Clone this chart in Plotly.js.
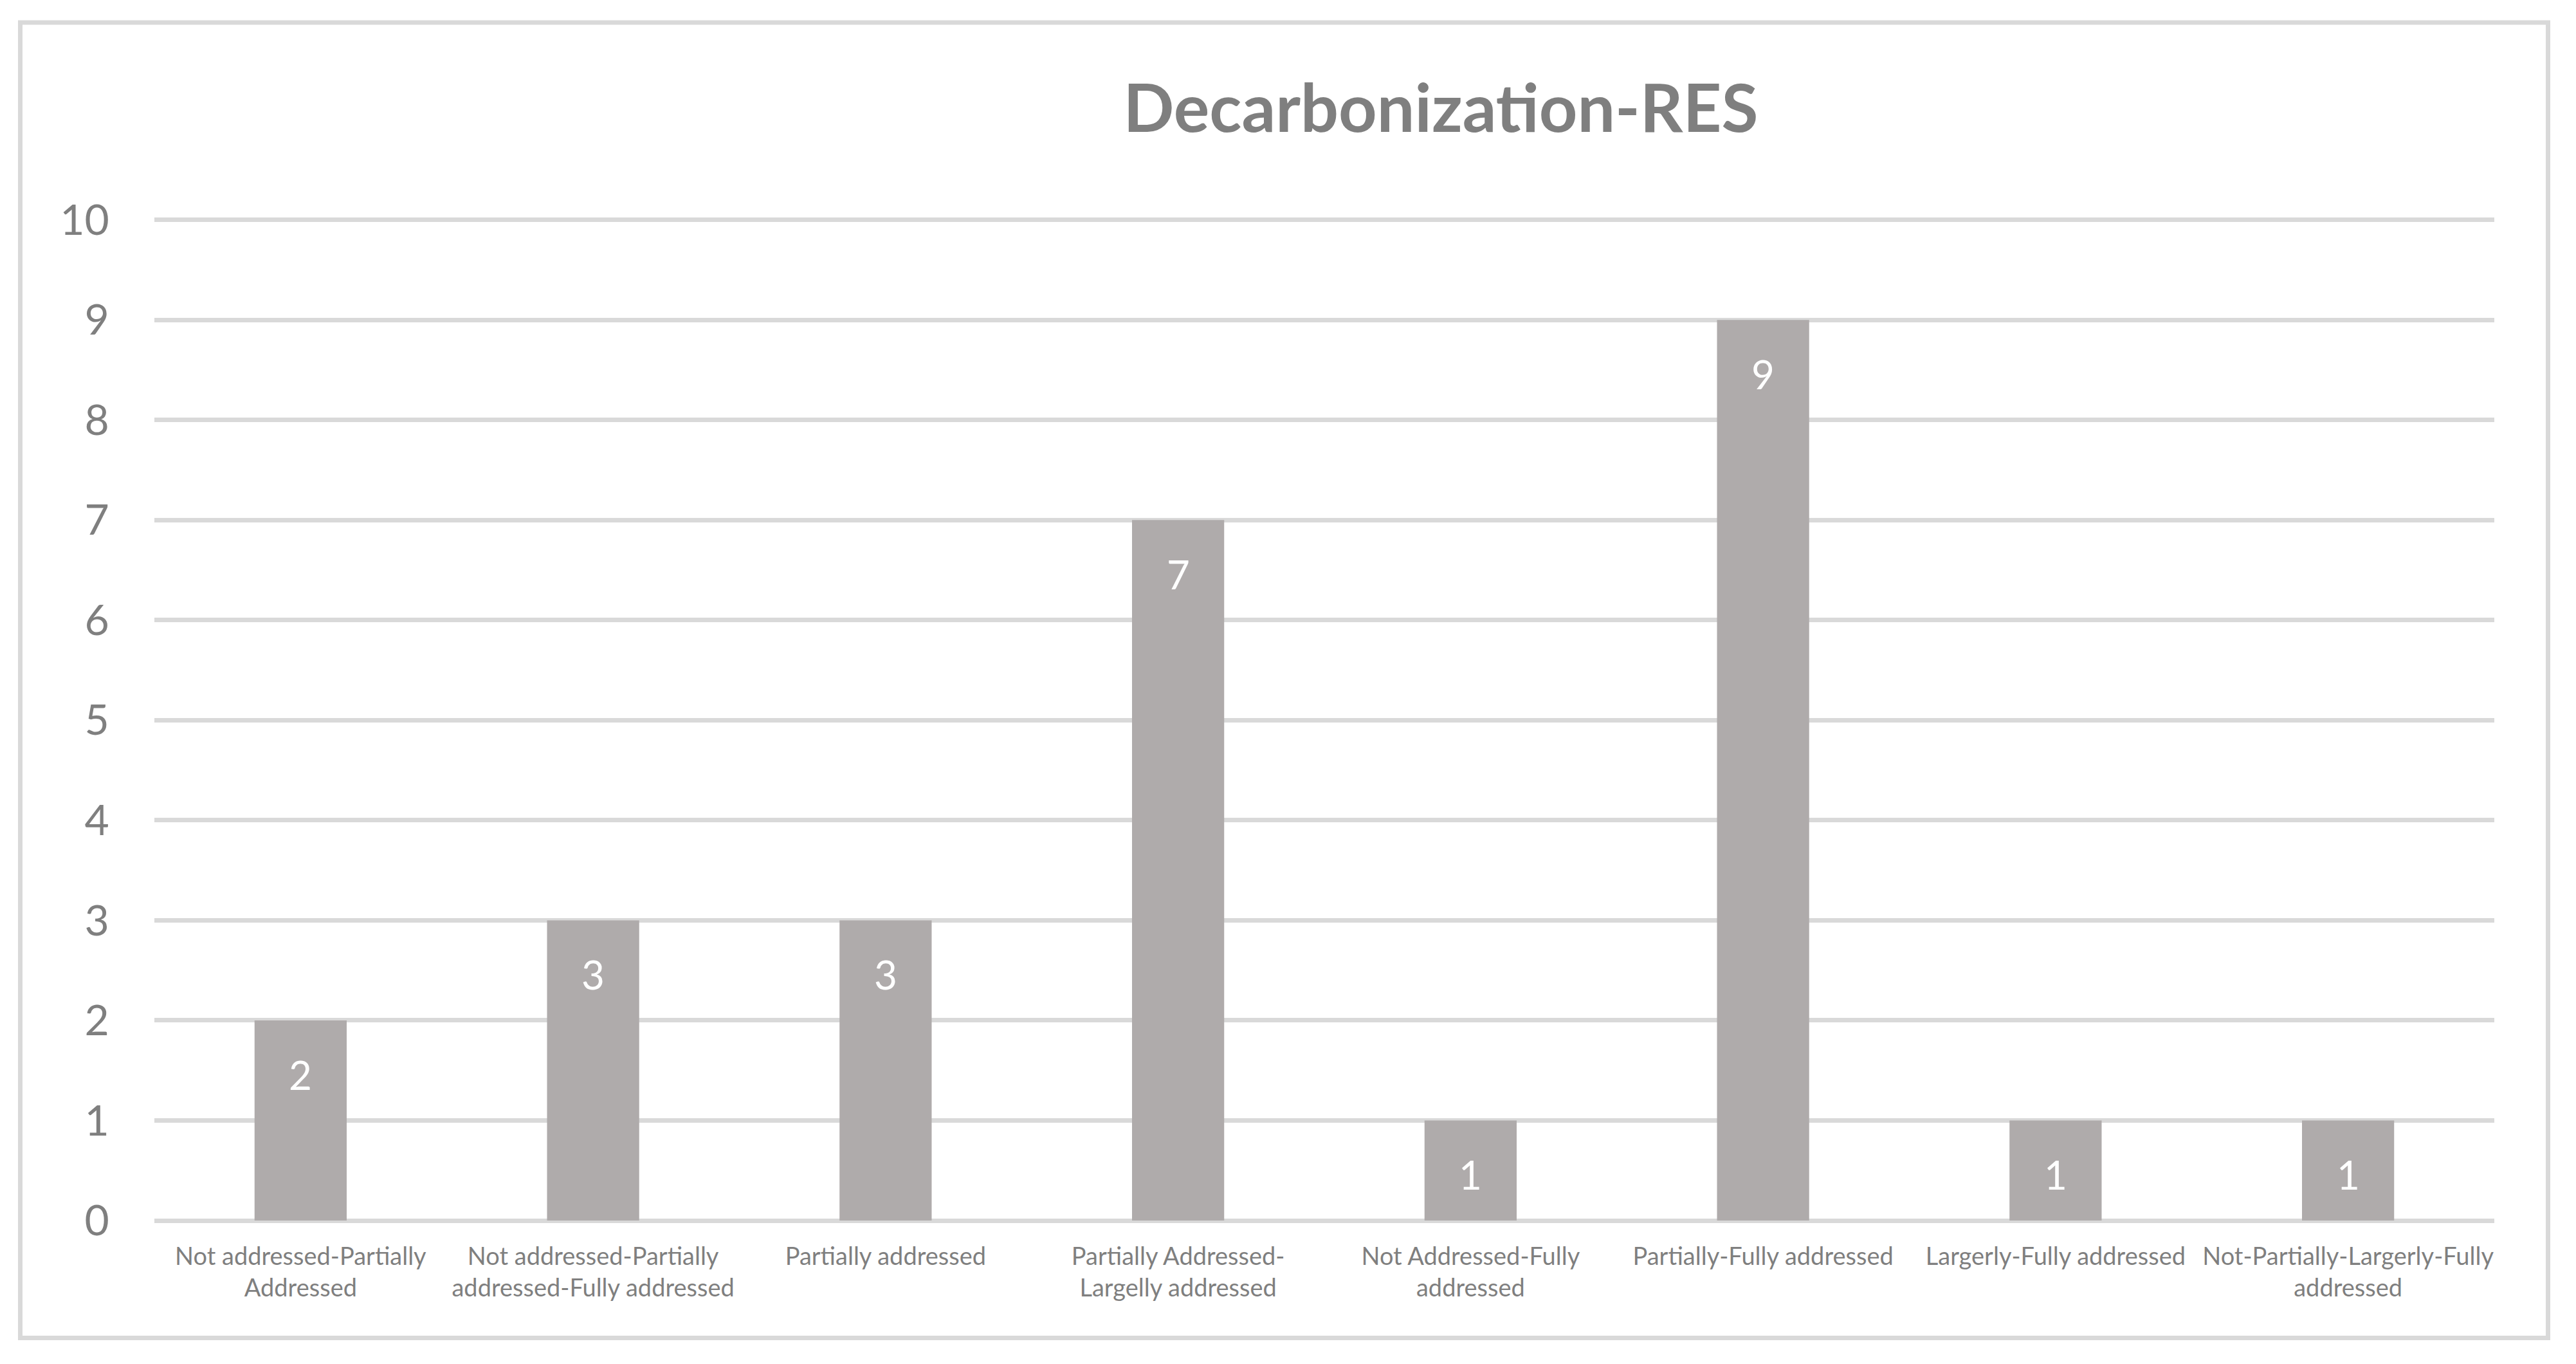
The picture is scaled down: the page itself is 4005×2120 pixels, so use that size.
<!DOCTYPE html>
<html>
<head>
<meta charset="utf-8">
<script src="https://cdn.plot.ly/plotly-3.0.1.min.js"></script>
<style>
  html, body { margin: 0; padding: 0; background: #ffffff; }
  #chart { width: 4005px; height: 2120px; }
</style>
</head>
<body>
<div id="chart"></div>
<script>
const chartTitle = "Decarbonization-RES";
const categories = [
  "Not addressed-Partially<br>Addressed",
  "Not addressed-Partially<br>addressed-Fully addressed",
  "Partially addressed",
  "Partially Addressed-<br>Largelly addressed",
  "Not Addressed-Fully<br>addressed",
  "Partially-Fully addressed",
  "Largerly-Fully addressed",
  "Not-Partially-Largerly-Fully<br>addressed"
];
const counts = [2, 3, 3, 7, 1, 9, 1, 1];
const yTickValues = [0, 1, 2, 3, 4, 5, 6, 7, 8, 9, 10];

const barColor = "#AFABAB";
const gridColor = "#D9D9D9";
const textGray = "#7F7F7F";
const fontFamily = "Lato, 'Open Sans', 'Liberation Sans', sans-serif";

const trace = {
  type: "bar",
  x: categories,
  y: counts,
  marker: { color: barColor, line: { width: 0 } },
  hoverinfo: "skip"
};

const annotations = categories.map((c, i) => ({
  x: c,
  y: counts[i],
  xref: "x",
  yref: "y",
  text: String(counts[i]),
  showarrow: false,
  yanchor: "middle",
  yshift: -84,
  font: { family: fontFamily, size: 62, color: "#ffffff" }
}));

// plot area: x 240..3878, y(0)=1897, y(10)=342
const plotLeft = 240, plotRight = 3878, plotBottom = 1897;
const plotTop = 334;
const plotW = plotRight - plotLeft, plotH = plotBottom - plotTop;

const layout = {
  width: 4005,
  height: 2120,
  paper_bgcolor: "#ffffff",
  plot_bgcolor: "#ffffff",
  margin: { l: plotLeft, r: 4005 - plotRight, t: plotTop, b: 2120 - plotBottom, pad: 0 },
  bargap: 0.685,
  showlegend: false,
  title: {
    text: "<b>" + chartTitle + "</b>",
    x: 2240 / 4005,
    xanchor: "center",
    xref: "container",
    y: 1 - 169 / 2120,
    yanchor: "middle",
    yref: "container",
    font: { family: fontFamily, size: 104, color: textGray }
  },
  xaxis: {
    type: "category",
    showgrid: false,
    showline: false,
    zeroline: false,
    ticks: "outside",
    ticklen: 22,
    tickcolor: "rgba(0,0,0,0)",
    tickfont: { family: fontFamily, size: 38, color: textGray },
    tickangle: 0,
    automargin: false
  },
  yaxis: {
    range: [0, 10.05],
    tickvals: yTickValues,
    ticktext: yTickValues.map(String),
    showgrid: true,
    gridcolor: gridColor,
    gridwidth: 7,
    zeroline: true,
    zerolinecolor: gridColor,
    zerolinewidth: 7,
    showline: false,
    ticks: "outside",
    ticklen: 56,
    tickcolor: "rgba(0,0,0,0)",
    tickfont: { family: fontFamily, size: 66, color: textGray },
    automargin: false,
    fixedrange: true
  },
  annotations: annotations,
  shapes: [{
    type: "rect",
    xref: "paper",
    yref: "paper",
    x0: (31.5 - plotLeft) / plotW,
    x1: (3961.5 - plotLeft) / plotW,
    y0: (plotBottom - 2079.5) / plotH,
    y1: (plotBottom - 35) / plotH,
    line: { color: gridColor, width: 7 },
    fillcolor: "rgba(0,0,0,0)",
    layer: "below"
  }]
};

Plotly.newPlot("chart", [trace], layout, { displayModeBar: false, staticPlot: true });
</script>
</body>
</html>
